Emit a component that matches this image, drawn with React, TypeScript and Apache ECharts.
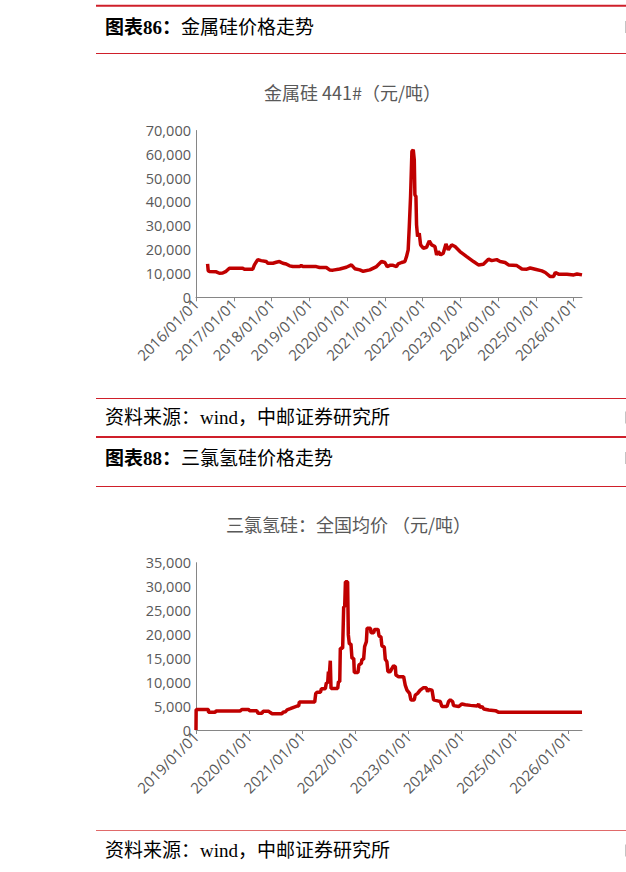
import React, { useEffect, useRef } from "react";
import * as echarts from "echarts";

// ---- Chart 1: 金属硅 441# (元/吨) ----
const siDates = [
  "2016-04-22", "2016-04-28", "2016-05-08", "2016-07-15", "2016-08-14", "2016-09-15", "2016-10-18",
  "2016-11-19", "2017-03-28", "2017-04-13", "2017-07-03", "2017-07-19", "2017-08-20", "2017-09-22",
  "2017-11-10", "2017-11-26", "2018-01-14", "2018-02-15", "2018-03-18", "2018-04-20", "2018-05-22",
  "2018-06-24", "2018-07-26", "2018-09-29", "2018-10-15", "2018-10-31", "2019-03-09", "2019-04-10",
  "2019-06-14", "2019-07-16", "2019-08-18", "2019-10-22", "2019-12-25", "2020-02-12", "2020-03-16",
  "2020-05-03", "2020-06-05", "2020-08-08", "2020-10-12", "2020-11-29", "2021-01-01", "2021-01-23",
  "2021-02-18", "2021-03-21", "2021-04-23", "2021-05-09", "2021-06-11", "2021-07-13", "2021-07-29",
  "2021-08-14", "2021-08-24", "2021-09-06", "2021-09-19", "2021-10-02", "2021-10-12", "2021-10-18",
  "2021-10-28", "2021-11-03", "2021-11-13", "2021-11-29", "2021-12-12", "2022-01-07", "2022-02-08",
  "2022-03-06", "2022-03-29", "2022-04-30", "2022-05-16", "2022-06-01", "2022-06-24", "2022-07-19",
  "2022-08-14", "2022-09-06", "2022-10-08", "2022-11-10", "2022-12-28", "2023-03-03", "2023-05-08",
  "2023-06-24", "2023-08-11", "2023-09-29", "2023-10-31", "2023-12-18", "2024-01-20", "2024-03-08",
  "2024-04-10", "2024-06-30", "2024-08-18", "2024-10-05", "2024-11-06", "2024-12-25", "2025-02-27",
  "2025-04-01", "2025-05-19", "2025-06-20", "2025-07-07", "2025-08-08", "2025-10-28", "2026-01-01",
  "2026-02-02", "2026-03-22",
];
const siValues = [
  14000, 11200, 10800, 10700, 10100, 10200, 10900,
  12200, 12200, 11800, 11800, 13600, 15800, 15400,
  15000, 14300, 14300, 14700, 15000, 14300, 14000,
  13200, 12900, 12900, 13400, 12900, 12900, 12500,
  12500, 11500, 11400, 11900, 12600, 13600, 12000,
  11500, 10900, 11500, 12900, 15000, 14600, 12900,
  13400, 13400, 12900, 14000, 14600, 15000, 17100,
  19900, 29000, 42300, 61200, 61900, 57700, 43000,
  42300, 30400, 25500, 26900, 22000, 20600, 21000,
  23700, 22000, 21300, 17800, 19200, 17800, 18500,
  22400, 19900, 22000, 21300, 19200, 17100, 15000,
  13600, 13900, 16000, 15400, 15800, 15000, 14600,
  13600, 13300, 11900, 11800, 12300, 11800, 11100,
  10400, 8700, 8700, 10400, 9700, 9700, 9400,
  9800, 9400,
];
const siYearTicks = [
  "2016-01-01", "2017-01-01", "2018-01-01", "2019-01-01", "2020-01-01", "2021-01-01",
  "2022-01-01", "2023-01-01", "2024-01-01", "2025-01-01", "2026-01-01",
];

// ---- Chart 2: 三氯氢硅：全国均价 (元/吨) ----
const tcsDates = [
  "2019-01-01", "2019-01-02", "2019-03-27", "2019-03-28", "2019-05-13", "2019-05-20", "2019-11-01",
  "2019-11-12", "2019-12-28", "2020-01-04", "2020-02-23", "2020-03-02", "2020-03-30", "2020-04-06",
  "2020-05-15", "2020-05-26", "2020-06-07", "2020-08-14", "2020-08-21", "2020-09-06", "2020-09-18",
  "2020-10-10", "2020-11-02", "2020-11-25", "2020-12-07", "2020-12-11", "2021-03-27", "2021-04-03",
  "2021-04-12", "2021-05-05", "2021-05-12", "2021-06-08", "2021-06-15", "2021-06-24", "2021-06-29",
  "2021-07-03", "2021-07-12", "2021-07-17", "2021-09-01", "2021-09-06", "2021-09-15", "2021-09-19",
  "2021-10-05", "2021-10-12", "2021-10-19", "2021-10-24", "2021-11-08", "2021-11-13", "2021-11-20",
  "2021-12-01", "2021-12-08", "2021-12-20", "2021-12-24", "2022-01-18", "2022-01-25", "2022-02-10",
  "2022-02-15", "2022-02-26", "2022-03-05", "2022-03-17", "2022-03-22", "2022-04-14", "2022-04-18",
  "2022-05-06", "2022-05-13", "2022-06-05", "2022-06-12", "2022-06-25", "2022-07-02", "2022-07-18",
  "2022-07-25", "2022-08-05", "2022-08-12", "2022-08-28", "2022-09-09", "2022-09-20", "2022-10-02",
  "2022-10-06", "2022-10-24", "2022-11-28", "2022-12-09", "2022-12-21", "2023-01-08", "2023-01-17",
  "2023-02-09", "2023-02-16", "2023-03-04", "2023-03-22", "2023-04-14", "2023-05-03", "2023-05-12",
  "2023-05-21", "2023-06-11", "2023-06-22", "2023-07-26", "2023-08-07", "2023-08-18", "2023-09-22",
  "2023-10-03", "2023-10-15", "2023-10-31", "2023-11-06", "2023-12-11", "2024-01-03", "2024-01-26",
  "2024-03-01", "2024-04-16", "2024-04-27", "2024-05-04", "2024-05-20", "2024-06-01", "2024-07-05",
  "2024-08-20", "2024-09-12", "2026-04-07",
];
const tcsValues = [
  0, 4300, 4300, 3700, 3700, 4000, 4000,
  4300, 4300, 4050, 4050, 3500, 3500, 3900,
  3900, 3650, 3400, 3400, 3700, 3800, 4200,
  4450, 4750, 5000, 5000, 5850, 5850, 7650,
  7900, 7900, 8650, 8650, 9900, 9800, 12200,
  10450, 14500, 8700, 8700, 10100, 10100, 17100,
  17100, 25800, 25800, 31000, 31000, 19900, 18000,
  18000, 15000, 15000, 12050, 12050, 13600, 13950,
  14800, 14800, 17450, 18500, 21300, 21300, 20350,
  20350, 21050, 21050, 19650, 19500, 17550, 17400,
  14800, 14300, 12200, 12200, 12900, 13450, 13250,
  11500, 11150, 11150, 9400, 8350, 7650, 6300,
  6300, 7300, 7650, 8350, 8850, 8850, 8000,
  8500, 8350, 6300, 6050, 5950, 4900, 4900,
  5950, 6300, 5950, 5100, 4900, 5450, 5300,
  5150, 5000, 5450, 4750, 4900, 4400, 4200,
  4050, 3700, 3700,
];
const tcsYearTicks = [
  "2019-01-01", "2020-01-01", "2021-01-01", "2022-01-01",
  "2023-01-01", "2024-01-01", "2025-01-01", "2026-01-01",
];

const toTs = (s: string) => {
  const [y, m, d] = s.split("-").map(Number);
  return new Date(y, m - 1, d).getTime();
};
const pad = (n: number) => (n < 10 ? "0" + n : "" + n);
const fmtDate = (v: number) => {
  const d = new Date(v);
  return `${d.getFullYear()}/${pad(d.getMonth() + 1)}/${pad(d.getDate())}`;
};

const RED = "#cf1f2a";
const AXIS = "#868686";
const LABEL = "#595959";
const LINE = "#c00000";
const HEAD_FONT = '"Liberation Serif", "Noto Sans CJK SC", serif';
const CJK_FONT = '"Noto Sans CJK SC", "Open Sans", sans-serif';

function xAxisFor(grid: number, ticks: string[], start: string, end: string) {
  const vals = ticks.map(toTs);
  return {
    type: "value",
    gridIndex: grid,
    min: toTs(start),
    max: toTs(end),
    splitLine: { show: false },
    axisLine: { show: true, onZero: false, lineStyle: { color: AXIS, width: 1 } },
    axisTick: { show: true, length: 4, customValues: vals, lineStyle: { color: AXIS } },
    axisLabel: {
      customValues: vals,
      formatter: (v: number) => fmtDate(v),
      rotate: 45,
      margin: 4,
      color: LABEL,
      fontSize: 15,
      fontFamily: '"Open Sans", sans-serif',
    },
  };
}

function yAxisFor(grid: number, max: number, interval: number) {
  return {
    type: "value",
    gridIndex: grid,
    min: 0,
    max,
    interval,
    splitLine: { show: false },
    axisLine: { show: true, lineStyle: { color: AXIS, width: 1 } },
    axisTick: { show: false },
    axisLabel: { margin: 5, color: LABEL, fontSize: 14.5, fontFamily: '"Open Sans", sans-serif' },
  };
}

function hline(y: number, w: number, color: string) {
  return {
    type: "line",
    shape: { x1: 96, y1: y, x2: 626, y2: y },
    style: { stroke: color, lineWidth: w },
    silent: true,
  };
}

function edgeMark(y: number) {
  return {
    type: "rect",
    shape: { x: 625, y: y - 6, width: 1, height: 12 },
    style: { fill: "#c4c4c4" },
    silent: true,
  };
}

function headText(y: number, bold: string, rest: string) {
  return {
    type: "text",
    x: 105,
    y,
    style: {
      text: `{b|${bold}}{n|${rest}}`,
      textVerticalAlign: "middle",
      textAlign: "left",
      rich: {
        b: { fontSize: 19, fontWeight: "bold", fontFamily: HEAD_FONT, fill: "#000", color: "#000" },
        n: { fontSize: 19, fontWeight: "normal", fontFamily: HEAD_FONT, fill: "#000", color: "#000" },
      },
    },
  };
}

function plainText(x: number, y: number, text: string, size: number, color: string, family: string) {
  return {
    type: "text",
    x,
    y,
    style: {
      text,
      fontSize: size,
      fontFamily: family,
      fill: color,
      textAlign: "left",
      textVerticalAlign: "middle",
    },
  };
}

export default function App() {
  const ref = useRef<HTMLDivElement | null>(null);

  useEffect(() => {
    if (!ref.current) return;
    const chart = echarts.init(ref.current, undefined, { renderer: "svg" });
    const option: any = {
      animation: false,
      backgroundColor: "#ffffff",
      grid: [
        { left: 196, top: 130.5, width: 386, height: 166.8, containLabel: false },
        { left: 196, top: 562.7, width: 386, height: 167.3, containLabel: false },
      ],
      xAxis: [
        xAxisFor(0, siYearTicks, "2016-01-01", siDates[siDates.length - 1]),
        xAxisFor(1, tcsYearTicks, "2019-01-01", tcsDates[tcsDates.length - 1]),
      ],
      yAxis: [yAxisFor(0, 70000, 10000), yAxisFor(1, 35000, 5000)],
      series: [
        {
          type: "line",
          xAxisIndex: 0,
          yAxisIndex: 0,
          data: siDates.map((d, i) => [toTs(d), siValues[i]]),
          symbol: "none",
          lineStyle: { color: LINE, width: 3.5 },
          itemStyle: { color: LINE },
        },
        {
          type: "line",
          xAxisIndex: 1,
          yAxisIndex: 1,
          data: tcsDates.map((d, i) => [toTs(d), tcsValues[i]]),
          symbol: "none",
          lineStyle: { color: LINE, width: 3.5 },
          itemStyle: { color: LINE },
        },
      ],
      graphic: [
        hline(5.7, 2, RED),
        headText(27, "图表86：", "金属硅价格走势"),
        hline(53.5, 1, RED),
        plainText(264, 92, "金属硅 441#（元/吨）", 18, LABEL, CJK_FONT),
        hline(398.5, 1, RED),
        plainText(105, 417.5, "资料来源：wind，中邮证券研究所", 19, "#000", HEAD_FONT),
        hline(437, 2, RED),
        headText(458, "图表88：", "三氯氢硅价格走势"),
        hline(486.5, 1, RED),
        plainText(226, 524, "三氯氢硅：全国均价 （元/吨）", 18, LABEL, CJK_FONT),
        hline(830.5, 1, "#e06a6a"),
        plainText(105, 850.5, "资料来源：wind，中邮证券研究所", 19, "#000", HEAD_FONT),
        edgeMark(27),
        edgeMark(417.5),
        edgeMark(458),
        edgeMark(850.5),
      ],
    };
    chart.setOption(option);
    return () => chart.dispose();
  }, []);

  return (
    <div
      ref={ref}
      style={{ position: "fixed", left: 0, top: 0, width: 626, height: 872, background: "#fff" }}
    />
  );
}
